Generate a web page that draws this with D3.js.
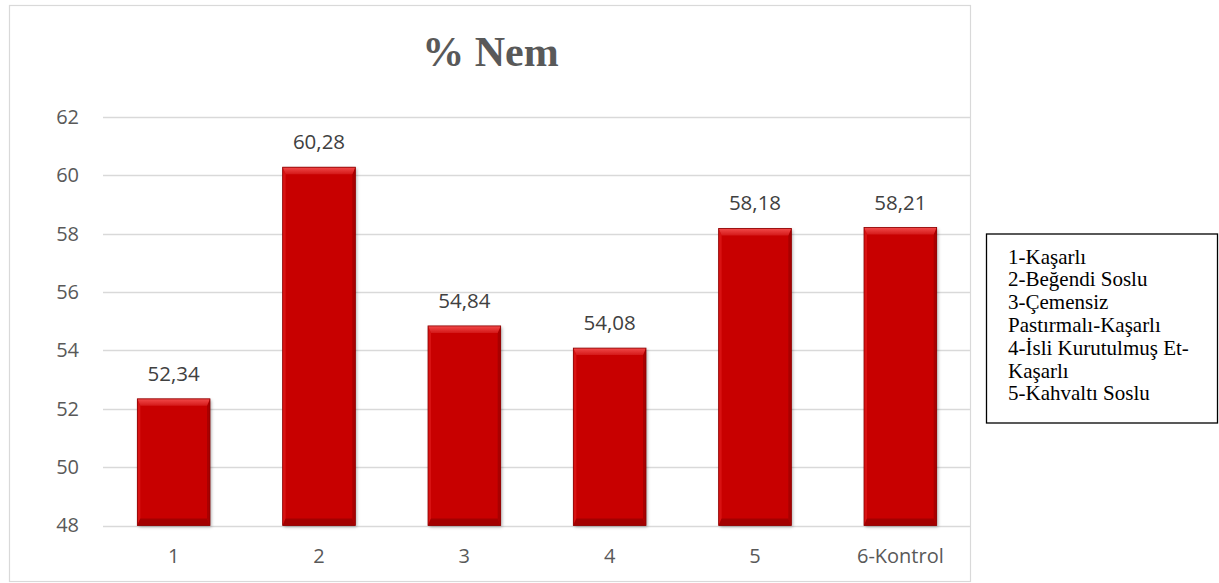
<!DOCTYPE html>
<html><head><meta charset="utf-8">
<script src="https://cdn.jsdelivr.net/npm/d3@7/dist/d3.min.js"></script>
<style>body{margin:0;background:#fff;}svg{display:block;}</style>
</head><body>
<svg id="c" width="1219" height="583"></svg>
<script>
const categories = ["1","2","3","4","5","6-Kontrol"];
const values = [52.34, 60.28, 54.84, 54.08, 58.18, 58.21];
const valueLabels = ["52,34","60,28","54,84","54,08","58,18","58,21"];
const yTicks = [48,50,52,54,56,58,60,62];
const legendLines = ["1-Kaşarlı","2-Beğendi Soslu","3-Çemensiz","Pastırmalı-Kaşarlı","4-İsli Kurutulmuş Et-","Kaşarlı","5-Kahvaltı Soslu"];
const title = "% Nem";

const svg = d3.select("#c");
const defs = svg.append("defs");
const f = defs.append("filter").attr("id","sh").attr("x","-20%").attr("y","-20%").attr("width","140%").attr("height","140%");
f.append("feDropShadow").attr("dx",1.5).attr("dy",1.5).attr("stdDeviation",1.5).attr("flood-color","#000").attr("flood-opacity",0.3);
const tg = defs.append("linearGradient").attr("id","topg").attr("x1",0).attr("y1",0).attr("x2",0).attr("y2",1);
tg.append("stop").attr("offset","0%").attr("stop-color","#f24a4a");
tg.append("stop").attr("offset","100%").attr("stop-color","#d41818");

const sans = "'Open Sans', 'Liberation Sans', sans-serif";
const serif = "'Liberation Serif', 'Times New Roman', serif";

// chart frame
svg.append("rect").attr("x",9.5).attr("y",5.5).attr("width",961).attr("height",576)
  .attr("fill","#fff").attr("stroke","#d9d9d9").attr("stroke-width",1.2);

const x = d3.scaleBand().domain(categories).range([101,973]).padding(0.5).paddingOuter(0.25);
const y = d3.scaleLinear().domain([48,62]).range([525.5,117]);

// gridlines
svg.append("g").selectAll("line").data(yTicks).join("line")
  .attr("x1",103).attr("x2",970).attr("y1",d=>Math.round(y(d))+0.5).attr("y2",d=>Math.round(y(d))+0.5)
  .attr("stroke","#d9d9d9").attr("stroke-width",1.3);

// y axis labels
const yAxis = d3.axisLeft(y).tickValues(yTicks).tickSize(0).tickPadding(0).tickFormat(d3.format("d"));
const ya = svg.append("g").attr("transform","translate(79,0)").call(yAxis);
ya.select(".domain").remove();
ya.selectAll("text").attr("font-family",sans).attr("font-size",20).attr("fill","#595959");

// x axis labels
const xAxis = d3.axisBottom(x).tickSize(0).tickPadding(0);
const xa = svg.append("g").attr("transform","translate(0,563)").call(xAxis);
xa.select(".domain").remove();
xa.selectAll("text").attr("dy",0).attr("font-family",sans).attr("font-size",20).attr("fill","#595959");

// bars with bevel
const bw = x.bandwidth();
const bt = 7, bs = 3;
const g = svg.append("g").selectAll("g").data(values).join("g")
  .attr("transform",(d,i)=>`translate(${x(categories[i])},${y(d)})`);
g.append("rect").attr("width",bw).attr("height",d=>y(48)-y(d)).attr("fill","#c80000").attr("filter","url(#sh)");
g.append("polygon").attr("points",d=>{const h=y(48)-y(d);return `0,0 ${bs},${bt} ${bs},${h-bt} 0,${h}`;}).attr("fill","#d81212");
g.append("polygon").attr("points",d=>{const h=y(48)-y(d);return `${bw},0 ${bw-bs},${bt} ${bw-bs},${h-bt} ${bw},${h}`;}).attr("fill","#a90000");
g.append("polygon").attr("points",`0,0 ${bw},0 ${bw-bs},${bt} ${bs},${bt}`).attr("fill","url(#topg)");
g.append("polygon").attr("points",d=>{const h=y(48)-y(d);return `0,${h} ${bw},${h} ${bw-bs},${h-bt} ${bs},${h-bt}`;}).attr("fill","#a30000");
g.append("rect").attr("width",bw).attr("height",d=>y(48)-y(d)).attr("fill","none").attr("stroke","#8a0000").attr("stroke-width",0.8);

// value labels
svg.append("g").selectAll("text").data(values).join("text")
  .attr("x",(d,i)=>x(categories[i])+bw/2).attr("y",d=>y(d)-18)
  .attr("text-anchor","middle").attr("font-family",sans).attr("font-size",20.5).attr("fill","#404040")
  .text((d,i)=>valueLabels[i]);

// title
svg.append("text").attr("x",490.5).attr("y",66).attr("text-anchor","middle")
  .attr("font-family",serif).attr("font-weight","bold").attr("font-size",42).attr("fill","#595959")
  .text(title);

// legend box
svg.append("rect").attr("x",986.5).attr("y",234).attr("width",231).attr("height",189)
  .attr("fill","#fff").attr("stroke","#000").attr("stroke-width",1.3);
svg.append("g").selectAll("text").data(legendLines).join("text")
  .attr("x",1008).attr("y",(d,i)=>263.5+i*22.8)
  .attr("font-family",serif).attr("font-size",21).attr("fill","#000")
  .text(d=>d);
</script>
</body></html>
